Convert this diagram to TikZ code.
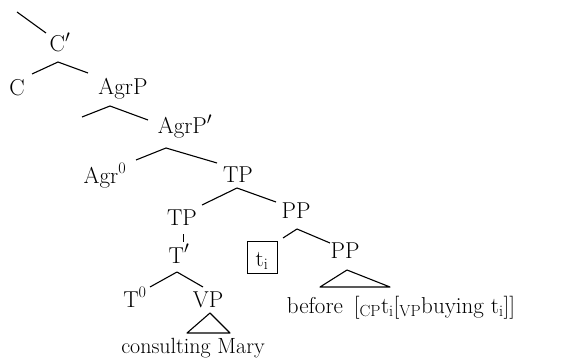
\documentclass[tikz,border=0pt]{standalone}
\begin{document}
\begin{tikzpicture}[x=1pt,y=-1pt,
  lab/.style={anchor=base,inner sep=0pt,font=\fontsize{23}{27}\selectfont},
  branch/.style={line width=1.1pt,line join=round}]
\useasboundingbox (0,0) rectangle (569,358);

% labels
\node[lab] (cbar)  at (60,52)  {C$'$};
\node[lab] (c)     at (17,96)  {C};
\node[lab] (agrp)  at (123,95) {AgrP};
\node[lab] (agrpb) at (185,134) {AgrP$'$};
\node[lab] (agr0)  at (105,183) {Agr\textsuperscript{0}};
\node[lab] (tp)    at (238,182) {TP};
\node[lab] (tp2)   at (182,225) {TP};
\node[lab] (pp)    at (296,218) {PP};
\node[lab] (tbar)  at (179,263) {T$'$};
\node[draw,line width=0.8pt,inner sep=0pt,minimum width=30pt,minimum height=32pt] (trace) at (262,257) {};
\node[lab] (ti) at (262,266) {t\textsubscript{i}};
\node[lab] (pp2)   at (345,258) {PP};
\node[lab] (t0)    at (135,307) {T\textsuperscript{0}};
\node[lab] (vp)    at (208,307) {VP};
\node[lab,font=\fontsize{22}{26}\selectfont] (cm) at (193,353) {consulting Mary};
\node[lab] (bef)   at (401,313) {before\hspace{4pt} [\textsubscript{CP}t\textsubscript{i}[\textsubscript{VP}buying t\textsubscript{i}]]};

% branch points
\coordinate (top0) at (17,12);  \coordinate (top1) at (46,33);
\coordinate (a1) at (58,62);  \coordinate (a1l) at (32,74);  \coordinate (a1r) at (88,73);
\coordinate (a2) at (110,106); \coordinate (a2l) at (82,117); \coordinate (a2r) at (148,120);
\coordinate (a3) at (166,148); \coordinate (a3l) at (136,160); \coordinate (a3r) at (217,163);
\coordinate (a4) at (237,188); \coordinate (a4l) at (202,205); \coordinate (a4r) at (276,202);
\coordinate (v0) at (183,234); \coordinate (v1) at (183,242);
\coordinate (a5) at (177,272); \coordinate (a5l) at (150,287); \coordinate (a5r) at (203,287);
\coordinate (a6) at (297,229); \coordinate (a6l) at (283,238); \coordinate (a6r) at (330,243);
\coordinate (t1) at (347,270); \coordinate (t1l) at (320,287); \coordinate (t1r) at (390,287);
\coordinate (t2) at (210,313); \coordinate (t2l) at (187,333); \coordinate (t2r) at (230,333);

% tree lines
\draw[branch] (top0) -- (top1);
\draw[branch] (a1l) -- (a1) -- (a1r);
\draw[branch] (a2l) -- (a2) -- (a2r);
\draw[branch] (a3l) -- (a3) -- (a3r);
\draw[branch] (a4l) -- (a4) -- (a4r);
\draw[line width=0.8pt] (v0) -- (v1);
\draw[branch] (a5l) -- (a5) -- (a5r);
\draw[branch] (a6l) -- (a6) -- (a6r);
\draw[branch] (t1l) -- (t1) -- (t1r) -- cycle;
\draw[branch] (t2l) -- (t2) -- (t2r) -- cycle;
\end{tikzpicture}
\end{document}
